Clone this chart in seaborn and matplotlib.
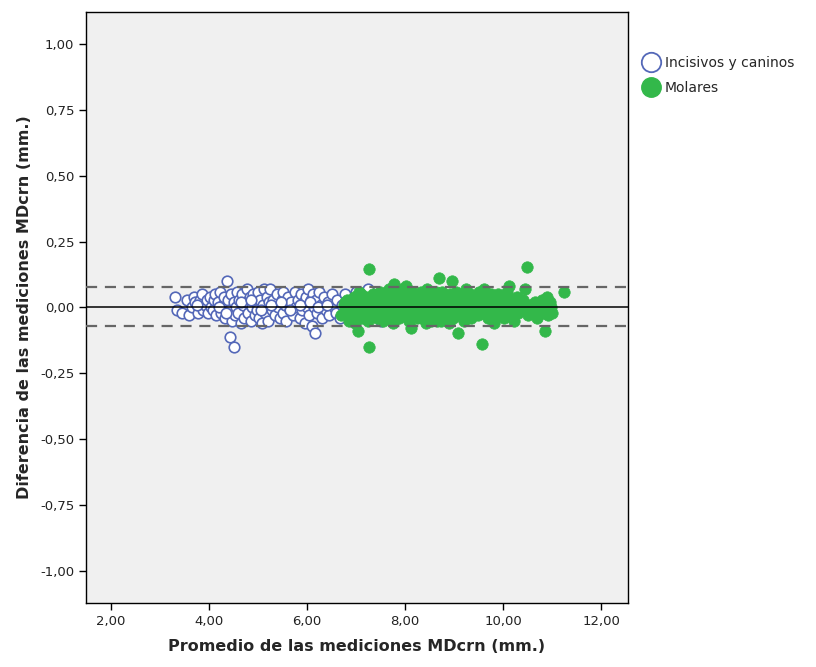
import numpy as np
import pandas as pd
import matplotlib
matplotlib.use("Agg")
import matplotlib.pyplot as plt
import matplotlib.ticker as mticker
from matplotlib.lines import Line2D
import seaborn as sns

# ─────────────────────────────────────────────
# Datos (aproximados)
# ─────────────────────────────────────────────
incisivos_x = [
    3.30, 3.35, 3.45, 3.55, 3.60, 3.65, 3.70, 3.72, 3.78, 3.82, 3.85, 3.88, 3.92, 3.95, 3.98,
    4.02, 4.05, 4.08, 4.10, 4.12, 4.15, 4.18, 4.22, 4.25, 4.28, 4.30, 4.33, 4.37, 4.38, 4.40,
    4.43, 4.45, 4.47, 4.50, 4.51, 4.53, 4.55, 4.58, 4.60, 4.62, 4.65, 4.68, 4.70, 4.72, 4.75,
    4.78, 4.80, 4.83, 4.85, 4.88, 4.90, 4.93, 4.95, 4.98, 5.00, 5.02, 5.05, 5.08, 5.10, 5.12,
    5.15, 5.18, 5.20, 5.22, 5.25, 5.28, 5.30, 5.35, 5.38, 5.40, 5.45, 5.48, 5.50, 5.52, 5.55,
    5.58, 5.62, 5.65, 5.68, 5.72, 5.75, 5.78, 5.82, 5.85, 5.88, 5.90, 5.93, 5.95, 5.98, 6.00,
    6.02, 6.05, 6.08, 6.10, 6.12, 6.15, 6.16, 6.18, 6.20, 6.25, 6.28, 6.30, 6.35, 6.38, 6.42,
    6.45, 6.50, 6.55, 6.60, 6.62, 6.68, 6.72, 6.78, 6.85, 6.90, 7.00, 7.10, 7.25, 7.50,
    3.75, 4.20, 4.35, 4.66, 4.86, 5.06, 5.26, 5.46, 5.66, 5.86, 6.06, 6.22, 6.40,
]
incisivos_y = [
    0.04, -0.01, -0.02, 0.03, -0.03, 0.00, 0.04, 0.02, -0.02, 0.03, 0.05, -0.01, 0.01, 0.03, -0.02,
    0.04, 0.00, -0.01, 0.03, 0.05, -0.03, 0.02, 0.06, -0.02, 0.01, 0.04, -0.04, 0.10, 0.03, -0.01,
    -0.11, 0.05, -0.05, 0.02, -0.15, -0.03, 0.00, 0.06, -0.02, 0.03, -0.06, 0.05, 0.01, -0.04, 0.02,
    0.07, -0.02, 0.04, -0.05, 0.00, 0.05, -0.03, 0.02, -0.01, 0.06, -0.04, 0.03, -0.06, 0.01, 0.07,
    -0.02, 0.04, -0.05, 0.02, 0.07, -0.01, 0.03, -0.03, 0.05, 0.00, -0.04, 0.03, 0.06, -0.02, 0.01,
    -0.05, 0.04, -0.01, 0.02, -0.03, 0.06, 0.00, 0.03, -0.04, 0.05, -0.01, 0.02, -0.06, 0.04, 0.00,
    0.07, -0.03, 0.03, -0.07, 0.05, 0.00, -0.095, 0.03, -0.02, 0.06, 0.01, -0.04, 0.04, -0.01, 0.02,
    -0.03, 0.05, 0.00, -0.02, 0.03, -0.04, 0.01, 0.05, -0.03, 0.02, 0.06, -0.02, 0.07, -0.05,
    0.01, 0.00, -0.02, 0.02, 0.03, -0.01, 0.01, 0.02, -0.01, 0.01, 0.02, 0.00, 0.01,
]

molares_x = [
    6.70, 6.75, 6.80, 6.82, 6.85, 6.88, 6.90, 6.92, 6.95, 6.98, 7.00, 7.02, 7.04, 7.05, 7.08,
    7.10, 7.12, 7.15, 7.18, 7.20, 7.22, 7.25, 7.27, 7.27, 7.30, 7.32, 7.35, 7.38, 7.40, 7.42,
    7.45, 7.48, 7.50, 7.52, 7.55, 7.58, 7.60, 7.62, 7.65, 7.68, 7.70, 7.72, 7.75, 7.77, 7.78,
    7.80, 7.82, 7.85, 7.87, 7.90, 7.92, 7.95, 7.97, 8.00, 8.02, 8.05, 8.08, 8.10, 8.12, 8.15,
    8.18, 8.20, 8.22, 8.25, 8.28, 8.30, 8.32, 8.35, 8.38, 8.40, 8.42, 8.45, 8.48, 8.50, 8.52,
    8.55, 8.58, 8.60, 8.62, 8.65, 8.69, 8.70, 8.72, 8.75, 8.78, 8.80, 8.82, 8.85, 8.88, 8.90,
    8.92, 8.96, 8.95, 8.98, 9.00, 9.02, 9.05, 9.08, 9.10, 9.12, 9.15, 9.18, 9.20, 9.22, 9.25,
    9.28, 9.30, 9.33, 9.35, 9.38, 9.40, 9.42, 9.45, 9.48, 9.50, 9.52, 9.55, 9.57, 9.60, 9.62,
    9.65, 9.68, 9.70, 9.72, 9.75, 9.78, 9.80, 9.82, 9.85, 9.88, 9.90, 9.92, 9.95, 9.98, 10.00,
    10.02, 10.05, 10.08, 10.10, 10.12, 10.15, 10.18, 10.20, 10.22, 10.25, 10.28, 10.30, 10.35, 10.40, 10.45,
    10.49, 10.50, 10.55, 10.60, 10.65, 10.70, 10.75, 10.80, 10.83, 10.86, 10.88, 10.90, 10.92, 10.95, 10.98,
    11.00, 11.24,
    7.06, 7.14, 7.24, 7.34, 7.44, 7.54, 7.64, 7.74, 7.84, 7.94, 8.04, 8.14, 8.24, 8.34, 8.44,
    8.54, 8.64, 8.74, 6.78, 6.96, 7.16, 7.36, 7.56, 7.76, 7.96, 8.16, 8.36, 8.56, 8.76, 9.06,
    9.26, 9.46, 9.66, 9.86, 10.06, 10.26, 10.46, 10.66, 10.86,
]
molares_y = [
    -0.03, 0.01, -0.01, 0.03, -0.05, 0.00, 0.02, -0.02, 0.04, -0.06, 0.01, -0.03, -0.09, 0.03, -0.01,
    0.05, -0.04, 0.02, -0.02, 0.04, 0.00, -0.05, 0.144, -0.148, 0.02, -0.02, 0.05, -0.01, 0.03, -0.04,
    0.01, 0.06, -0.02, 0.02, -0.05, 0.04, 0.00, -0.03, 0.03, 0.07, -0.01, 0.02, -0.06, 0.09, 0.05,
    -0.02, 0.01, 0.04, -0.04, 0.02, 0.06, -0.01, 0.03, -0.03, 0.08, 0.01, -0.05, 0.04, -0.077, 0.02,
    -0.01, 0.05, -0.03, 0.01, 0.03, -0.02, 0.06, -0.04, 0.02, 0.00, -0.06, 0.04, -0.01, 0.03, -0.03,
    0.05, 0.01, -0.02, 0.03, -0.05, 0.11, 0.02, -0.01, 0.06, -0.03, 0.01, 0.04, -0.02, 0.02, -0.06,
    0.05, 0.10, 0.00, -0.04, 0.03, -0.01, 0.06, -0.095, 0.02, -0.03, 0.04, 0.00, -0.05, 0.03, 0.07,
    -0.02, 0.01, 0.05, -0.04, 0.02, -0.01, 0.04, 0.00, -0.03, 0.06, 0.02, -0.02, -0.14, 0.03, 0.07,
    -0.01, 0.04, -0.04, 0.01, 0.05, -0.02, 0.02, -0.06, 0.03, 0.00, 0.05, -0.03, 0.02, -0.01, 0.04,
    -0.04, 0.01, 0.06, -0.02, 0.08, 0.02, -0.01, 0.03, -0.05, 0.00, 0.04, -0.02, 0.01, 0.03, 0.07,
    0.155, -0.03, 0.01, -0.02, 0.02, -0.04, 0.00, 0.03, -0.02, -0.09, 0.01, 0.04, -0.03, 0.02, 0.00,
    -0.02, 0.06,
    0.06, 0.00, 0.03, -0.03, 0.05, 0.00, 0.06, 0.02, -0.03, 0.07, -0.02, 0.06, -0.04, 0.03, 0.07,
    -0.05, 0.06, -0.05, 0.02, 0.01, 0.01, 0.00, 0.01, 0.00, 0.01, 0.00, 0.01, 0.00, 0.01, 0.00,
    0.01, -0.01, 0.00, 0.01, 0.00, 0.01, 0.00, 0.01, 0.00,
]

grupos = ["Incisivos y caninos", "Molares"]
limite_sup = 0.078   # límite superior de concordancia
limite_inf = -0.070  # límite inferior de concordancia
media_dif = 0.0

df = pd.DataFrame({
    "promedio": incisivos_x + molares_x,
    "diferencia": incisivos_y + molares_y,
    "grupo": [grupos[0]] * len(incisivos_x) + [grupos[1]] * len(molares_x),
})

# ─────────────────────────────────────────────
# Gráfico Bland-Altman
# ─────────────────────────────────────────────
sns.set_style("white")
plt.rcParams["font.family"] = ["DejaVu Sans"]

AZUL = "#5468b8"
VERDE = "#33b84a"

fig = plt.figure(figsize=(8.16, 6.67), dpi=100)
ax = fig.add_axes([0.1054, 0.096, 0.6642, 0.886])
ax.set_facecolor("#f0f0f0")

sns.scatterplot(
    data=df[df["grupo"] == grupos[0]], x="promedio", y="diferencia",
    ax=ax, s=58, facecolor="white", edgecolor=AZUL, linewidth=1.2, legend=False, zorder=3,
)
sns.scatterplot(
    data=df[df["grupo"] == grupos[1]], x="promedio", y="diferencia",
    ax=ax, s=68, color=VERDE, edgecolor=VERDE, linewidth=0.5, legend=False, zorder=4,
)

ax.axhline(media_dif, color="black", lw=1.1, zorder=5)
for lim in (limite_sup, limite_inf):
    ax.axhline(lim, color="#666666", lw=1.6, ls=(0, (5, 3.5)), zorder=5)

ax.set_xlim(1.49, 12.55)
ax.set_ylim(-1.12, 1.12)
ax.set_xticks([2, 4, 6, 8, 10, 12])
ax.set_yticks([-1.0, -0.75, -0.5, -0.25, 0.0, 0.25, 0.5, 0.75, 1.0])
coma = mticker.FuncFormatter(lambda v, _: f"{v:.2f}".replace(".", ","))
ax.xaxis.set_major_formatter(coma)
ax.yaxis.set_major_formatter(coma)
ax.tick_params(axis="both", direction="out", length=5, width=1, color="black",
               labelsize=9.5, labelcolor="#222222", bottom=True, left=True)

for sp in ax.spines.values():
    sp.set_color("black")
    sp.set_linewidth(1)

ax.set_xlabel("Promedio de las mediciones MDcrn (mm.)", fontsize=11.5, fontweight="bold", labelpad=8)
ax.set_ylabel("Diferencia de las mediciones MDcrn (mm.)", fontsize=11.5, fontweight="bold", labelpad=6)

handles = [
    Line2D([], [], marker="o", ls="", markersize=14, markerfacecolor="white",
           markeredgecolor=AZUL, markeredgewidth=1.3),
    Line2D([], [], marker="o", ls="", markersize=14, markerfacecolor=VERDE,
           markeredgecolor=VERDE),
]
fig.legend(handles, grupos, loc="upper left", bbox_to_anchor=(0.781, 0.925),
           frameon=False, fontsize=10, handletextpad=0.4, labelspacing=0.8,
           borderaxespad=0, handlelength=1.2)

plt.savefig("out.png", dpi=100)
plt.close()
